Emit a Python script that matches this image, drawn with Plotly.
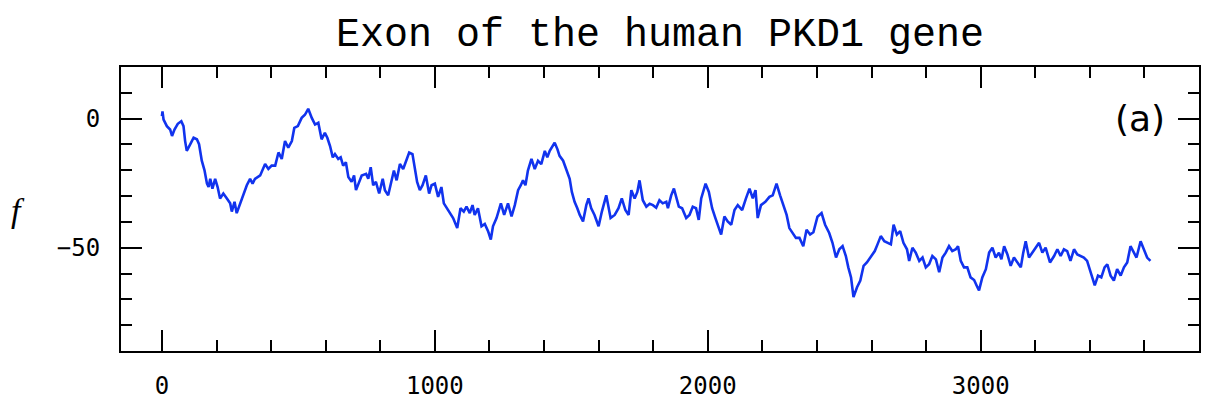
import plotly.graph_objects as go

# DNA walk along the exon: position (bp) and walk displacement f
position = [
    0, 2, 6, 18, 30, 37, 46, 58, 71, 79, 85, 91, 104, 116, 128, 136, 146, 156, 165, 171,
    177, 185, 195, 204, 213, 225, 238, 250, 256, 266, 274, 286, 299, 311, 323, 332, 341, 360, 378, 390,
    402, 415, 427, 439, 451, 463, 476, 485, 498, 512, 524, 536, 549, 561, 573, 585, 597, 606, 616, 626,
    634, 646, 655, 664, 674, 683, 695, 704, 711, 723, 732, 748, 756, 765, 774, 784, 796, 809, 817, 829,
    838, 850, 860, 872, 884, 896, 906, 918, 927, 935, 945, 955, 967, 979, 988, 1000, 1012, 1024, 1033, 1045,
    1057, 1067, 1082, 1094, 1106, 1116, 1128, 1138, 1146, 1158, 1171, 1183, 1195, 1205, 1213, 1226, 1242, 1254, 1268, 1281,
    1293, 1305, 1315, 1323, 1332, 1341, 1354, 1366, 1378, 1390, 1403, 1412, 1421, 1439, 1449, 1457, 1470, 1482, 1494, 1502,
    1512, 1522, 1531, 1543, 1555, 1563, 1573, 1585, 1600, 1612, 1628, 1644, 1659, 1673, 1685, 1698, 1710, 1720, 1732, 1742,
    1750, 1762, 1775, 1787, 1799, 1811, 1823, 1835, 1848, 1854, 1866, 1876, 1884, 1894, 1906, 1921, 1933, 1945, 1957, 1967,
    1976, 1992, 2004, 2016, 2028, 2037, 2049, 2061, 2073, 2086, 2098, 2110, 2126, 2140, 2153, 2165, 2175, 2183, 2195, 2211,
    2226, 2238, 2252, 2265, 2277, 2289, 2299, 2311, 2323, 2336, 2350, 2362, 2375, 2387, 2402, 2417, 2430, 2445, 2457, 2470,
    2482, 2494, 2506, 2515, 2525, 2534, 2547, 2559, 2571, 2583, 2598, 2612, 2622, 2634, 2647, 2659, 2671, 2681, 2693, 2705,
    2717, 2730, 2738, 2750, 2762, 2775, 2787, 2799, 2811, 2823, 2836, 2848, 2860, 2872, 2884, 2896, 2909, 2917, 2927, 2939,
    2951, 2963, 2976, 2988, 2994, 3006, 3019, 3031, 3043, 3055, 3067, 3076, 3086, 3098, 3110, 3122, 3134, 3147, 3156, 3165,
    3177, 3189, 3201, 3214, 3226, 3238, 3254, 3269, 3281, 3293, 3305, 3317, 3329, 3342, 3354, 3366, 3378, 3390, 3403, 3418,
    3430, 3442, 3454, 3464, 3476, 3488, 3500, 3513, 3525, 3537, 3549, 3561, 3571, 3586, 3598, 3610, 3622,
]
walk = [
    1.0, 2.8, -0.4, -2.9, -4.2, -6.7, -4.2, -2.0, -1.0, -2.9, -8.7, -12.5, -9.9, -7.4, -8.0, -9.9, -16.3, -20.0, -25.2, -26.5,
    -23.3, -27.1, -23.3, -26.5, -30.9, -29.0, -30.9, -32.8, -36.0, -32.2, -36.6, -32.8, -29.0, -25.8, -23.3, -25.2, -23.3, -22.0, -17.6, -19.5,
    -18.2, -18.2, -13.1, -15.6, -8.7, -11.2, -8.7, -3.6, -2.9, 0.3, 1.5, 3.8, 0.3, -2.3, -1.6, -8.0, -5.5, -7.4, -10.6, -15.0,
    -13.7, -15.6, -15.0, -18.2, -16.9, -22.6, -24.5, -22.0, -27.7, -24.5, -22.0, -21.4, -23.3, -18.8, -25.8, -24.5, -29.0, -23.3, -27.7, -29.7,
    -25.2, -20.1, -23.9, -17.6, -19.5, -15.6, -13.1, -13.7, -18.8, -24.5, -27.7, -25.8, -22.0, -29.0, -25.8, -25.2, -30.3, -26.5, -32.8, -34.7,
    -36.6, -38.5, -42.4, -34.7, -36.0, -34.1, -36.6, -33.5, -37.3, -34.7, -41.7, -40.8, -43.6, -46.8, -41.7, -38.5, -32.8, -37.3, -32.8, -37.9,
    -33.5, -27.7, -25.8, -23.9, -25.8, -20.1, -15.6, -19.5, -16.3, -17.6, -12.5, -15.0, -12.5, -9.3, -11.8, -14.4, -16.3, -20.1, -23.3, -28.4,
    -32.2, -34.7, -37.3, -39.8, -33.5, -30.9, -34.7, -37.3, -41.7, -36.0, -29.7, -38.5, -37.3, -34.7, -30.9, -35.4, -37.3, -27.7, -30.9, -28.4,
    -23.9, -31.6, -34.1, -33.0, -33.5, -34.5, -31.6, -32.8, -32.2, -34.7, -29.7, -27.1, -30.3, -34.1, -34.7, -38.5, -37.3, -34.1, -34.7, -39.2,
    -30.9, -25.2, -28.4, -34.7, -38.5, -41.1, -44.9, -37.9, -39.8, -41.1, -35.4, -33.5, -35.4, -30.9, -27.1, -30.9, -27.7, -38.5, -33.5, -32.2,
    -30.3, -29.7, -25.2, -29.7, -33.5, -37.3, -42.4, -44.3, -46.2, -46.2, -49.4, -43.0, -44.9, -44.0, -38.0, -36.6, -41.1, -44.3, -48.1, -53.8,
    -50.6, -49.4, -53.2, -57.6, -61.5, -69.1, -65.3, -62.7, -57.0, -55.7, -53.2, -51.3, -48.7, -45.5, -47.5, -48.1, -48.7, -41.1, -44.9, -43.6,
    -48.1, -50.6, -55.1, -50.0, -51.9, -55.1, -53.8, -57.6, -56.4, -53.2, -54.5, -59.5, -53.8, -51.9, -49.4, -51.3, -50.6, -49.4, -55.1, -57.6,
    -57.6, -61.5, -62.5, -65.3, -66.5, -61.5, -58.3, -51.9, -50.0, -53.8, -51.9, -54.5, -49.4, -52.6, -57.0, -53.8, -55.7, -57.6, -51.9, -47.5,
    -53.8, -51.9, -50.0, -48.1, -51.9, -50.0, -55.7, -53.2, -50.6, -53.2, -50.6, -51.3, -55.1, -50.6, -52.6, -53.2, -53.8, -55.1, -59.5, -64.6,
    -60.8, -61.5, -57.6, -56.4, -60.8, -62.7, -58.3, -60.8, -57.6, -55.7, -49.4, -51.9, -53.8, -47.5, -50.6, -53.8, -55.1,
]

x_tick_vals = [0, 1000, 2000, 3000]
x_tick_text = ["0", "1000", "2000", "3000"]
y_tick_vals = [0, -50]
y_tick_text = ["0", "\u221250"]

fig = go.Figure()
fig.add_trace(go.Scatter(
    x=position, y=walk, mode="lines",
    line=dict(color="#1133ee", width=2.6),
    hoverinfo="skip", showlegend=False,
))

tick_font = dict(family="DejaVu Sans Mono", size=24, color="black")
axis_common = dict(
    showgrid=False, zeroline=False,
    showline=True, linecolor="black", linewidth=2, mirror="ticks",
    ticks="inside", ticklen=21, tickwidth=1.5, tickcolor="black",
    tickfont=tick_font,
)

fig.update_xaxes(
    range=[-150, 3800], tickvals=x_tick_vals, ticktext=x_tick_text,
    minor=dict(dtick=200, tick0=0, ticks="inside", ticklen=11, tickwidth=1.5, tickcolor="black"),
    ticklabelstandoff=12,
    **axis_common,
)
fig.update_yaxes(
    range=[-90, 20], tickvals=y_tick_vals, ticktext=y_tick_text,
    minor=dict(dtick=10, tick0=0, ticks="inside", ticklen=11, tickwidth=1.5, tickcolor="black"),
    ticklabelstandoff=14,
    **axis_common,
)

fig.update_layout(
    width=1207, height=406,
    margin=dict(l=121, r=6, t=67, b=52),
    paper_bgcolor="white", plot_bgcolor="white",
    title=dict(
        text="Exon of the human PKD1 gene",
        font=dict(family="Liberation Mono", size=40, color="black"),
        x=660 / 1207, xanchor="center", xref="container",
        y=1 - 32 / 406, yanchor="middle", yref="container",
    ),
    annotations=[
        dict(text="(a)", xref="paper", yref="paper", x=0.945, y=0.819,
             xanchor="center", yanchor="middle", showarrow=False,
             font=dict(family="DejaVu Sans", size=36, color="black")),
        dict(text="<i>f</i>", xref="paper", yref="paper", x=(18 - 121) / 1080, y=0.495,
             xanchor="center", yanchor="middle", showarrow=False,
             font=dict(family="Liberation Serif", size=34, color="black")),
    ],
)

fig.write_html("out.html")
